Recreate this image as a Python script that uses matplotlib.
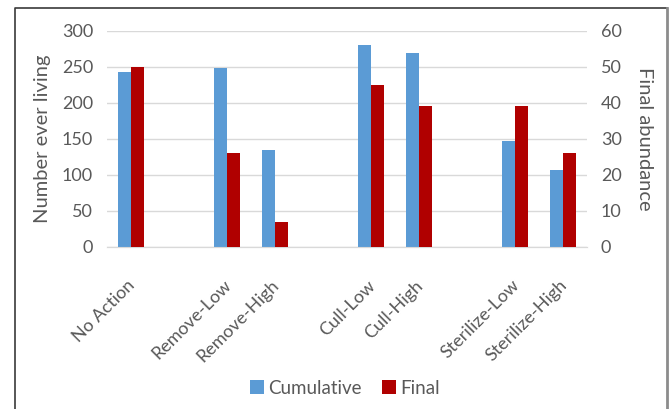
import numpy as np
import matplotlib
matplotlib.use("Agg")
import matplotlib.pyplot as plt
from matplotlib.lines import Line2D
from matplotlib.transforms import ScaledTranslation

plt.rcParams["font.family"] = ["Lato", "DejaVu Sans"]

# Scenario data (empty slots separate the treatment groups)
slots = [0, 2, 3, 5, 6, 8, 9]
labels = ["No Action", "Remove-Low", "Remove-High", "Cull-Low", "Cull-High",
          "Sterilize-Low", "Sterilize-High"]
cumulative = [242, 248, 134, 280, 269, 147, 107]
final = [50, 26, 7, 45, 39, 39, 26]

blue = "#5b9bd5"
red = "#b00000"
grey = "#595959"

fig = plt.figure(figsize=(6.7, 4.09), dpi=100)
ax = fig.add_axes([107 / 670, 1 - 246.7 / 409, 480 / 670, 216 / 409])
ax2 = ax.twinx()

x = np.array(slots)
w = 0.27
ax.bar(x - w / 2, cumulative, width=w, color=blue, zorder=3, label="Cumulative")
ax2.bar(x + w / 2, final, width=w, color=red, zorder=3, label="Final")

ax.set_xlim(-0.5, 9.5)
ax.set_ylim(0, 300)
ax2.set_ylim(0, 60)
ax.set_yticks(range(0, 301, 50))
ax2.set_yticks(range(0, 61, 10))
ax.yaxis.grid(True, color="#d9d9d9", linewidth=1, zorder=0)
ax.set_axisbelow(True)

for a in (ax, ax2):
    for side in ("top", "left", "right"):
        a.spines[side].set_visible(False)
    a.spines["bottom"].set_color("#d9d9d9")
    a.tick_params(axis="y", length=0, labelsize=13, labelcolor=grey, pad=10)

ax.set_xticks(x)
ax.set_xticklabels(labels, rotation=45, ha="right", va="top",
                   rotation_mode="anchor", fontsize=13, color=grey)
ax.tick_params(axis="x", length=0, pad=22)
shift = ScaledTranslation(-4 / 100, 0, fig.dpi_scale_trans)
for lab in ax.get_xticklabels():
    lab.set_transform(lab.get_transform() + shift)

ax.set_ylabel("Number ever living", fontsize=14.5, color=grey,
              ha="center", va="center")
ax.yaxis.set_label_coords(-0.135, 0.5)
ax2.set_ylabel("Final abundance", fontsize=14.5, color=grey, rotation=270,
               ha="center", va="center")
ax2.yaxis.set_label_coords(1.12, 0.5)

h1, l1 = ax.get_legend_handles_labels()
h2, l2 = ax2.get_legend_handles_labels()
fig.legend(h1 + h2, l1 + l2, loc="center", bbox_to_anchor=(0.515, 1 - 388 / 409),
           ncol=2, frameon=False, fontsize=13.5, handlelength=0.75,
           handleheight=0.75, handletextpad=0.2, columnspacing=1.1,
           labelcolor=grey)

# chart area border: dark top/left, softer grey right edge
left, right, top = 14.5 / 670, 666.5 / 670, 1 - 7.5 / 409
fig.add_artist(Line2D([left, left, right], [0, top, top],
                      transform=fig.transFigure, color="#3a3a3a", lw=1.2))
fig.add_artist(Line2D([right, right], [top, 0], transform=fig.transFigure,
                      color="#8c8c8c", lw=2))

fig.savefig("out.png", dpi=100)
